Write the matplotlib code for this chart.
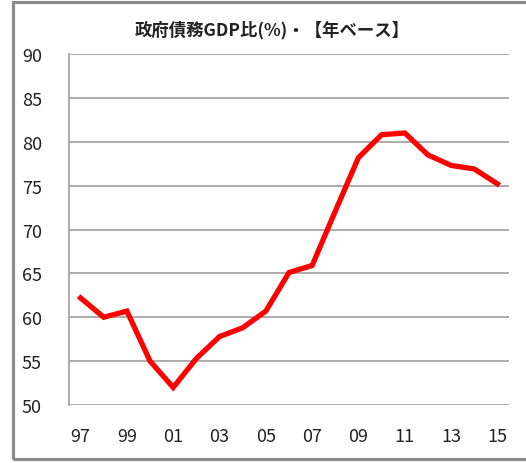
import numpy as np
import matplotlib
matplotlib.use("Agg")
import matplotlib.pyplot as plt
from matplotlib.patches import Rectangle

plt.rcParams['font.family'] = ['Noto Sans CJK JP', 'DejaVu Sans']

years = ["97", "98", "99", "00", "01", "02", "03", "04", "05", "06",
         "07", "08", "09", "10", "11", "12", "13", "14", "15"]
debt_gdp = [62.2, 60.0, 60.7, 55.0, 52.0, 55.3, 57.8, 58.8, 60.7, 65.1,
            65.9, 72.1, 78.2, 80.8, 81.0, 78.5, 77.3, 76.9, 75.2]
title = "政府債務GDP比(%)・【年ベース】"

W, H = 526, 464
fig = plt.figure(figsize=(W / 100, H / 100), dpi=100)
ax = fig.add_axes([69 / W, 1 - 406 / H, 440 / W, 351 / H])

x = np.arange(len(years))
ax.plot(x, debt_gdp, color="#ff0000", lw=3.8, solid_joinstyle="miter", zorder=3)

ax.set_xlim(-0.5, len(years) - 0.5)
ax.set_ylim(50, 90)
ax.set_yticks(np.arange(50, 91, 5))
ax.set_xticks(x[::2])
ax.set_xticklabels(years[::2])
ax.tick_params(length=0, labelsize=13, colors="#222222")
ax.tick_params(axis="x", pad=16)
ax.tick_params(axis="y", pad=34)
for t in ax.get_yticklabels():
    t.set_horizontalalignment("left")

ax.grid(axis="y", color="#a6a6a6", lw=1.3)
ax.set_axisbelow(True)
for s in ["top", "right", "bottom"]:
    ax.spines[s].set_visible(False)
ax.spines["left"].set_color("#a6a6a6")
ax.spines["left"].set_linewidth(1.3)

fig.text(272 / W, 1 - 30 / H, title, ha="center", va="center",
         fontsize=12.5, fontweight="bold", color="#222222")

fig.patches.append(Rectangle((12.5 / W, 4.5 / H), 1.2, 457 / H,
                             transform=fig.transFigure, fill=False,
                             ec="#8c8c8c", lw=2.3, clip_on=False))

fig.savefig("out.png", dpi=100)
